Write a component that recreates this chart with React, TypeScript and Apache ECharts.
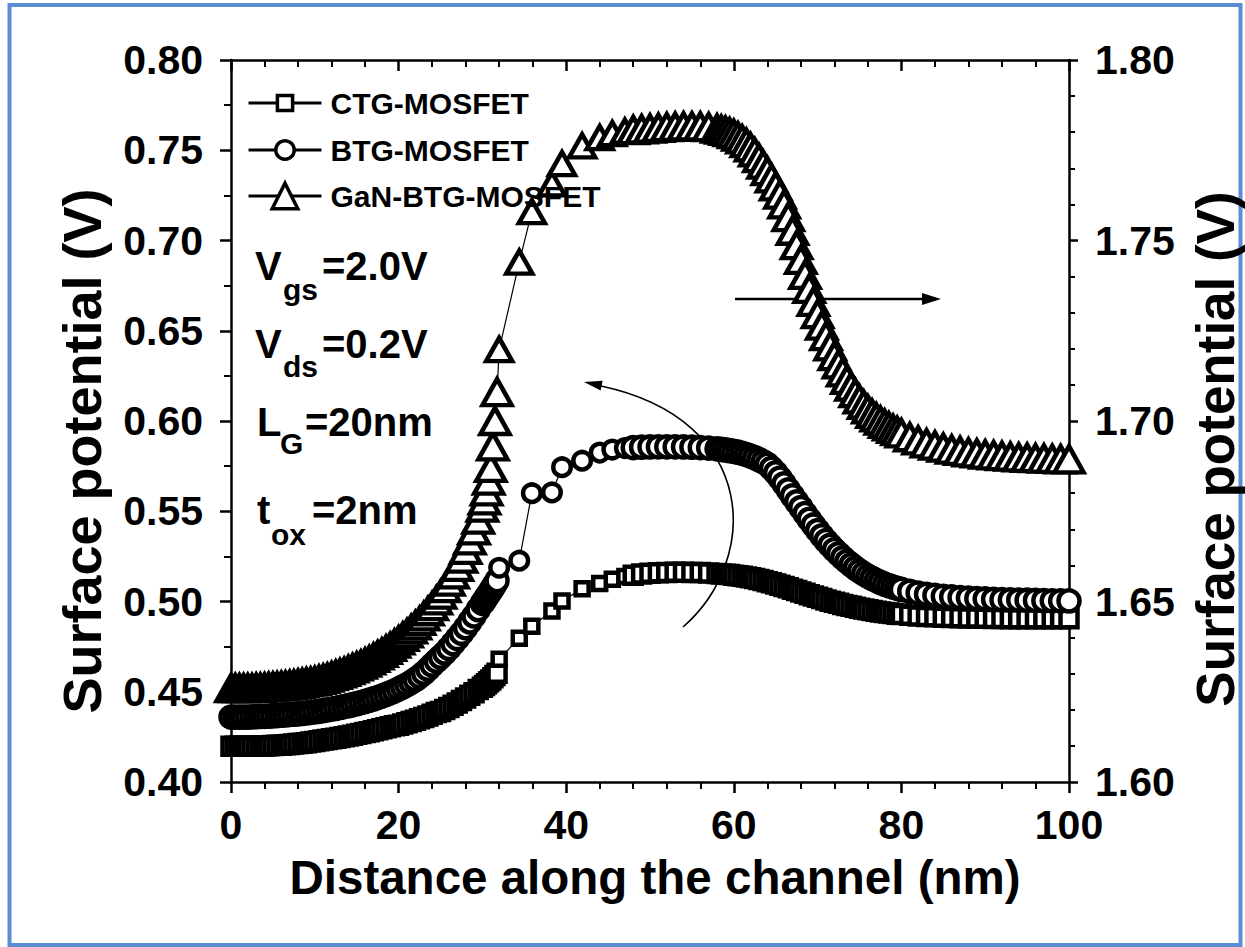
import React, { useEffect, useRef } from "react";
import * as echarts from "echarts";

// Distance along the channel (nm), shared by all three devices
const distance = [
  0, 0.5, 1, 1.5, 2, 2.5, 3, 3.5, 4, 4.5, 5, 5.5, 6, 6.5, 7, 7.5, 8, 8.5, 9, 9.5,
  10, 10.5, 11, 11.5, 12, 12.5, 13, 13.5, 14, 14.5, 15, 15.5, 16, 16.5, 17, 17.5, 18, 18.5, 19, 19.5,
  20, 20.5, 21, 21.5, 22, 22.5, 23, 23.5, 24, 24.5, 25, 25.5, 26, 26.5, 27, 27.5, 28, 28.5, 29, 29.5,
  30, 30.25, 30.5, 30.75, 31, 31.25, 31.5, 31.75,
  32, 34.4, 35.9, 38.3, 39.5, 41.9, 44, 45.5, 47,
  48, 49, 50, 51, 52, 53, 54, 55, 56, 57, 58,
  58.5, 59, 59.5, 60, 60.5, 61, 61.5, 62, 62.5, 63, 63.5, 64, 64.5, 65, 65.5, 66, 66.5, 67, 67.5, 68, 68.5, 69, 69.5,
  70, 70.5, 71, 71.5, 72, 72.5, 73, 73.5, 74, 74.5, 75, 75.5, 76, 76.5, 77, 77.5, 78, 78.5, 79, 79.5, 80,
  81, 82, 83, 84, 85, 86, 87, 88, 89, 90, 91, 92, 93, 94, 95, 96, 97, 98, 99, 100,
];

// Surface potential (V), left axis
const ctgMosfet = [
  0.4198, 0.4198, 0.4198, 0.4198, 0.4198, 0.4198, 0.4199, 0.4199, 0.42, 0.4201, 0.4202, 0.4203, 0.4204, 0.4206, 0.4208, 0.421, 0.4213, 0.4215, 0.4218, 0.4221,
  0.4225, 0.4228, 0.4232, 0.4235, 0.4239, 0.4243, 0.4247, 0.4251, 0.4255, 0.4259, 0.4264, 0.4269, 0.4274, 0.4279, 0.4284, 0.4289, 0.4295, 0.43, 0.4306, 0.4312,
  0.4315, 0.4321, 0.4328, 0.4335, 0.4342, 0.435, 0.4358, 0.4366, 0.4375, 0.4385, 0.439, 0.4401, 0.4413, 0.4425, 0.4438, 0.4451, 0.4465, 0.448, 0.4495, 0.4512,
  0.4525, 0.4535, 0.4545, 0.4555, 0.4565, 0.4577, 0.459, 0.4603,
  0.468, 0.4797, 0.4863, 0.4947, 0.5003, 0.507, 0.51, 0.5123, 0.5138,
  0.5146, 0.5152, 0.5156, 0.5159, 0.5161, 0.5162, 0.5162, 0.5161, 0.516, 0.5158, 0.5155,
  0.5153, 0.5151, 0.5149, 0.5146, 0.5143, 0.514, 0.5136, 0.5132, 0.5127, 0.5122, 0.5116, 0.511, 0.5104, 0.5097, 0.509, 0.5083, 0.5076, 0.5068, 0.5061, 0.5053, 0.5046, 0.5038, 0.5031,
  0.5023, 0.5016, 0.5009, 0.5002, 0.4996, 0.499, 0.4984, 0.4978, 0.4973, 0.4968, 0.4963, 0.4958, 0.4954, 0.495, 0.4946, 0.4942, 0.4939, 0.4936, 0.4933, 0.493, 0.4928,
  0.4924, 0.492, 0.4917, 0.4915, 0.4913, 0.4911, 0.491, 0.4909, 0.4908, 0.4907, 0.4906, 0.4906, 0.4905, 0.4905, 0.4905, 0.4904, 0.4904, 0.4904, 0.4904, 0.4904,
];

const btgMosfet = [
  0.436, 0.436, 0.436, 0.436, 0.436, 0.4361, 0.4362, 0.4363, 0.4364, 0.4365, 0.4367, 0.4368, 0.437, 0.4372, 0.4374, 0.4376, 0.4378, 0.438, 0.4383, 0.4386,
  0.4389, 0.4392, 0.4396, 0.44, 0.4404, 0.4408, 0.4413, 0.4418, 0.4423, 0.4428, 0.4434, 0.444, 0.4446, 0.4453, 0.446, 0.4468, 0.4476, 0.4485, 0.4494, 0.4504,
  0.4515, 0.4527, 0.4539, 0.4553, 0.4567, 0.4584, 0.4603, 0.4625, 0.4648, 0.467, 0.4692, 0.4715, 0.474, 0.4767, 0.4795, 0.4824, 0.4855, 0.4887, 0.492, 0.4955,
  0.499, 0.5007, 0.5025, 0.5042, 0.506, 0.5078, 0.5097, 0.5116,
  0.5187, 0.5226, 0.56, 0.5604, 0.5744, 0.578, 0.5825, 0.5842, 0.585,
  0.5853, 0.5855, 0.5856, 0.5857, 0.5857, 0.5857, 0.5856, 0.5855, 0.5853, 0.585, 0.5846,
  0.5843, 0.584, 0.5836, 0.5832, 0.5827, 0.5821, 0.5814, 0.5806, 0.5797, 0.5786, 0.5774, 0.576, 0.5738, 0.5713, 0.5684, 0.5652, 0.5619, 0.5585, 0.5552, 0.552, 0.5487, 0.5455, 0.5424,
  0.5393, 0.5364, 0.5337, 0.5311, 0.5287, 0.5264, 0.5242, 0.5222, 0.5203, 0.5185, 0.5169, 0.5154, 0.514, 0.5128, 0.5116, 0.5106, 0.5096, 0.5088, 0.508, 0.5073, 0.5067,
  0.5056, 0.5047, 0.504, 0.5034, 0.5029, 0.5025, 0.5022, 0.5019, 0.5016, 0.5014, 0.5012, 0.501, 0.5009, 0.5008, 0.5007, 0.5006, 0.5005, 0.5004, 0.5004, 0.5003,
];

// Surface potential (V), right axis
const ganBtgMosfet = [
  1.626, 1.626, 1.626, 1.626, 1.626, 1.626, 1.6261, 1.6261, 1.6262, 1.6263, 1.6264, 1.6265, 1.6266, 1.6267, 1.6269, 1.627, 1.6272, 1.6274, 1.6276, 1.6278,
  1.628, 1.6283, 1.6286, 1.6289, 1.6293, 1.6297, 1.6301, 1.6305, 1.631, 1.6315, 1.632, 1.6325, 1.6331, 1.6337, 1.6344, 1.6351, 1.6358, 1.6366, 1.6374, 1.6383,
  1.6392, 1.6402, 1.6412, 1.6423, 1.6434, 1.6446, 1.6459, 1.6473, 1.6487, 1.6503, 1.6519, 1.6537, 1.6555, 1.6575, 1.6596, 1.6619, 1.6643, 1.6669, 1.6697, 1.6727,
  1.676, 1.678, 1.6805, 1.6835, 1.687, 1.693, 1.7, 1.708,
  1.7198, 1.744, 1.758, 1.7657, 1.7713, 1.7762, 1.7785, 1.7796, 1.7803,
  1.7806, 1.7808, 1.781, 1.7812, 1.7814, 1.7815, 1.7816, 1.7816, 1.7816, 1.7814, 1.781,
  1.7807, 1.7804, 1.78, 1.7795, 1.7788, 1.778, 1.777, 1.7758, 1.7744, 1.7728, 1.771, 1.7692, 1.7672, 1.765, 1.7627, 1.76, 1.7565, 1.7527, 1.7487, 1.7446, 1.7405, 1.7366, 1.733,
  1.7296, 1.7264, 1.7235, 1.7207, 1.718, 1.7157, 1.7135, 1.7114, 1.7095, 1.7077, 1.706, 1.7045, 1.7032, 1.702, 1.701, 1.7001, 1.6992, 1.6985, 1.6978, 1.6972, 1.6966,
  1.6955, 1.6946, 1.6938, 1.6932, 1.6926, 1.6921, 1.6917, 1.6913, 1.691, 1.6907, 1.6905, 1.6903, 1.6901, 1.6899, 1.6898, 1.6897, 1.6896, 1.6895, 1.6894, 1.6894,
];

const seriesNames = ["CTG-MOSFET", "BTG-MOSFET", "GaN-BTG-MOSFET"];
const xRange = [0, 100, 20];
const leftRange = [0.4, 0.8, 0.05];
const rightRange = [1.6, 1.8, 0.05];
// span of the coarsely sampled points, drawn with smaller markers
const sparseSpan = [31.9, 47.5];

const FONT = '"Liberation Sans", Arial, Helvetica, sans-serif';

const pairs = (ys: number[]) => distance.map((x, i) => [x, ys[i]]);

const axisLine = { show: true, onZero: false, lineStyle: { color: "#000", width: 2.5 } };
const tickStyle = { color: "#000", width: 2.5 };
const labelStyle = { color: "#000", fontSize: 41, fontWeight: "bold" as const, fontFamily: FONT };

function buildOption() {
  const markerBase = (symbol: string, dense: number | number[], sparse: number | number[]) => ({
    type: "line" as const,
    symbol,
    symbolSize: (v: number[]) => (v[0] > sparseSpan[0] && v[0] < sparseSpan[1] ? sparse : dense),
    lineStyle: { color: "#000", width: 1.2 },
    itemStyle: { color: "#fff", borderColor: "#000", borderWidth: 4.5 },
    emphasis: { disabled: true },
  });

  const legendBase = {
    orient: "vertical" as const,
    left: 247,
    padding: 0,
    itemWidth: 73,
    selectedMode: false,
    lineStyle: { width: 3, color: "#000" },
    itemStyle: { borderWidth: 3.5 },
    textStyle: { ...labelStyle, fontSize: 30, padding: [0, 0, 0, 4] },
  };

  const sub = (text: string, x: number, y: number, size: number) => ({
    type: "text" as const,
    x,
    y,
    style: {
      text,
      fill: "#000",
      fontSize: size,
      fontWeight: "bold",
      fontFamily: FONT,
      textAlign: "left",
      textVerticalAlign: "middle",
    },
  });

  const title = (text: string, x: number, y: number, size: number, rotation: number) => ({
    type: "text" as const,
    x,
    y,
    rotation,
    style: {
      text,
      fill: "#000",
      fontSize: size,
      fontWeight: "bold",
      fontFamily: FONT,
      textAlign: "center",
      textVerticalAlign: "middle",
    },
  });

  return {
    animation: false,
    backgroundColor: "#fff",
    grid: { left: 231, right: 176, top: 60, bottom: 165, containLabel: false },
    xAxis: [
      {
        type: "value",
        min: xRange[0],
        max: xRange[1],
        interval: xRange[2],
        position: "bottom",
        axisLine,
        axisTick: { show: true, length: 11, lineStyle: tickStyle },
        minorTick: { show: true, splitNumber: 5, length: 7, lineStyle: { color: "#000", width: 2 } },
        splitLine: { show: false },
        axisLabel: { ...labelStyle, margin: 22 },
      },
      {
        type: "value",
        min: xRange[0],
        max: xRange[1],
        interval: xRange[2],
        position: "top",
        axisLine,
        axisTick: { show: true, inside: true, length: 11, lineStyle: tickStyle },
        minorTick: { show: true, splitNumber: 5, length: 7, lineStyle: { color: "#000", width: 2 } },
        splitLine: { show: false },
        axisLabel: { show: false },
      },
    ],
    yAxis: [
      {
        type: "value",
        min: leftRange[0],
        max: leftRange[1],
        interval: leftRange[2],
        position: "left",
        axisLine,
        axisTick: { show: true, length: 11, lineStyle: tickStyle },
        minorTick: { show: true, splitNumber: 2, length: 7, lineStyle: { color: "#000", width: 2 } },
        splitLine: { show: false },
        axisLabel: { ...labelStyle, margin: 28, formatter: (v: number) => v.toFixed(2) },
      },
      {
        type: "value",
        min: rightRange[0],
        max: rightRange[1],
        interval: rightRange[2],
        position: "right",
        axisLine,
        axisTick: { show: true, length: 9, lineStyle: tickStyle },
        minorTick: { show: true, splitNumber: 5, length: 6, lineStyle: { color: "#000", width: 2 } },
        splitLine: { show: false },
        axisLabel: { ...labelStyle, margin: 26, formatter: (v: number) => v.toFixed(2) },
      },
    ],
    legend: [
      { ...legendBase, data: [seriesNames[0]], top: 88, itemHeight: 19 },
      { ...legendBase, data: [seriesNames[1]], top: 135, itemHeight: 23 },
      { ...legendBase, data: [seriesNames[2]], top: 181, itemHeight: 32 },
    ],
    series: [
      { ...markerBase("rect", 17, 13), name: seriesNames[0], xAxisIndex: 0, yAxisIndex: 0, data: pairs(ctgMosfet) },
      { ...markerBase("circle", 21, 17.5), name: seriesNames[1], xAxisIndex: 0, yAxisIndex: 0, data: pairs(btgMosfet) },
      {
        ...markerBase("triangle", [29, 26], [26, 23]),
        name: seriesNames[2],
        xAxisIndex: 0,
        yAxisIndex: 1,
        data: pairs(ganBtgMosfet),
      },
    ],
    graphic: [
      // frame
      {
        type: "rect",
        shape: { x: 9.5, y: 5, width: 1231, height: 940 },
        style: { fill: "none", stroke: "#5b8dd6", lineWidth: 4 },
        silent: true,
      },
      // axis titles
      title("Surface potential (V)", 82, 451, 54, Math.PI / 2),
      title("Surface potential (V)", 1215, 449, 53, Math.PI / 2),
      title("Distance along the channel (nm)", 655, 877, 47.5, 0),
      // device parameters
      sub("V", 255, 266, 40),
      sub("gs", 283, 289, 30),
      sub("=2.0V", 322, 266, 40),
      sub("V", 255, 344, 40),
      sub("ds", 283, 366, 30),
      sub("=0.2V", 322, 344, 40),
      sub("L", 257, 422, 40),
      sub("G", 280, 443, 30),
      sub("=20nm", 305, 422, 40),
      sub("t", 257, 510, 40),
      sub("ox", 271, 534, 30),
      sub("=2nm", 312, 510, 40),
      // arrow pointing to the right axis
      {
        type: "line",
        shape: { x1: 735, y1: 299, x2: 926, y2: 299 },
        style: { stroke: "#000", lineWidth: 2.5 },
      },
      {
        type: "polygon",
        shape: { points: [[941, 299], [922, 293], [922, 305]] },
        style: { fill: "#000" },
      },
      // curved arrow pointing to the left axis
      {
        type: "bezierCurve",
        shape: { x1: 683, y1: 627, cpx1: 760, cpy1: 560, cpx2: 760, cpy2: 420, x2: 601, y2: 386 },
        style: { stroke: "#000", lineWidth: 1.6, fill: "none" },
      },
      {
        type: "polygon",
        shape: { points: [[584, 382], [602.6, 380.8], [600.6, 390.6]] },
        style: { fill: "#000" },
      },
    ],
  };
}

export default function App() {
  const ref = useRef<HTMLDivElement>(null);

  useEffect(() => {
    if (!ref.current) return;
    const chart = echarts.init(ref.current, undefined, { renderer: "svg" });
    chart.setOption(buildOption() as any);
    return () => chart.dispose();
  }, []);

  return (
    <div
      ref={ref}
      style={{ position: "fixed", left: 0, top: 0, width: 1245, height: 947, background: "#fff" }}
    />
  );
}
